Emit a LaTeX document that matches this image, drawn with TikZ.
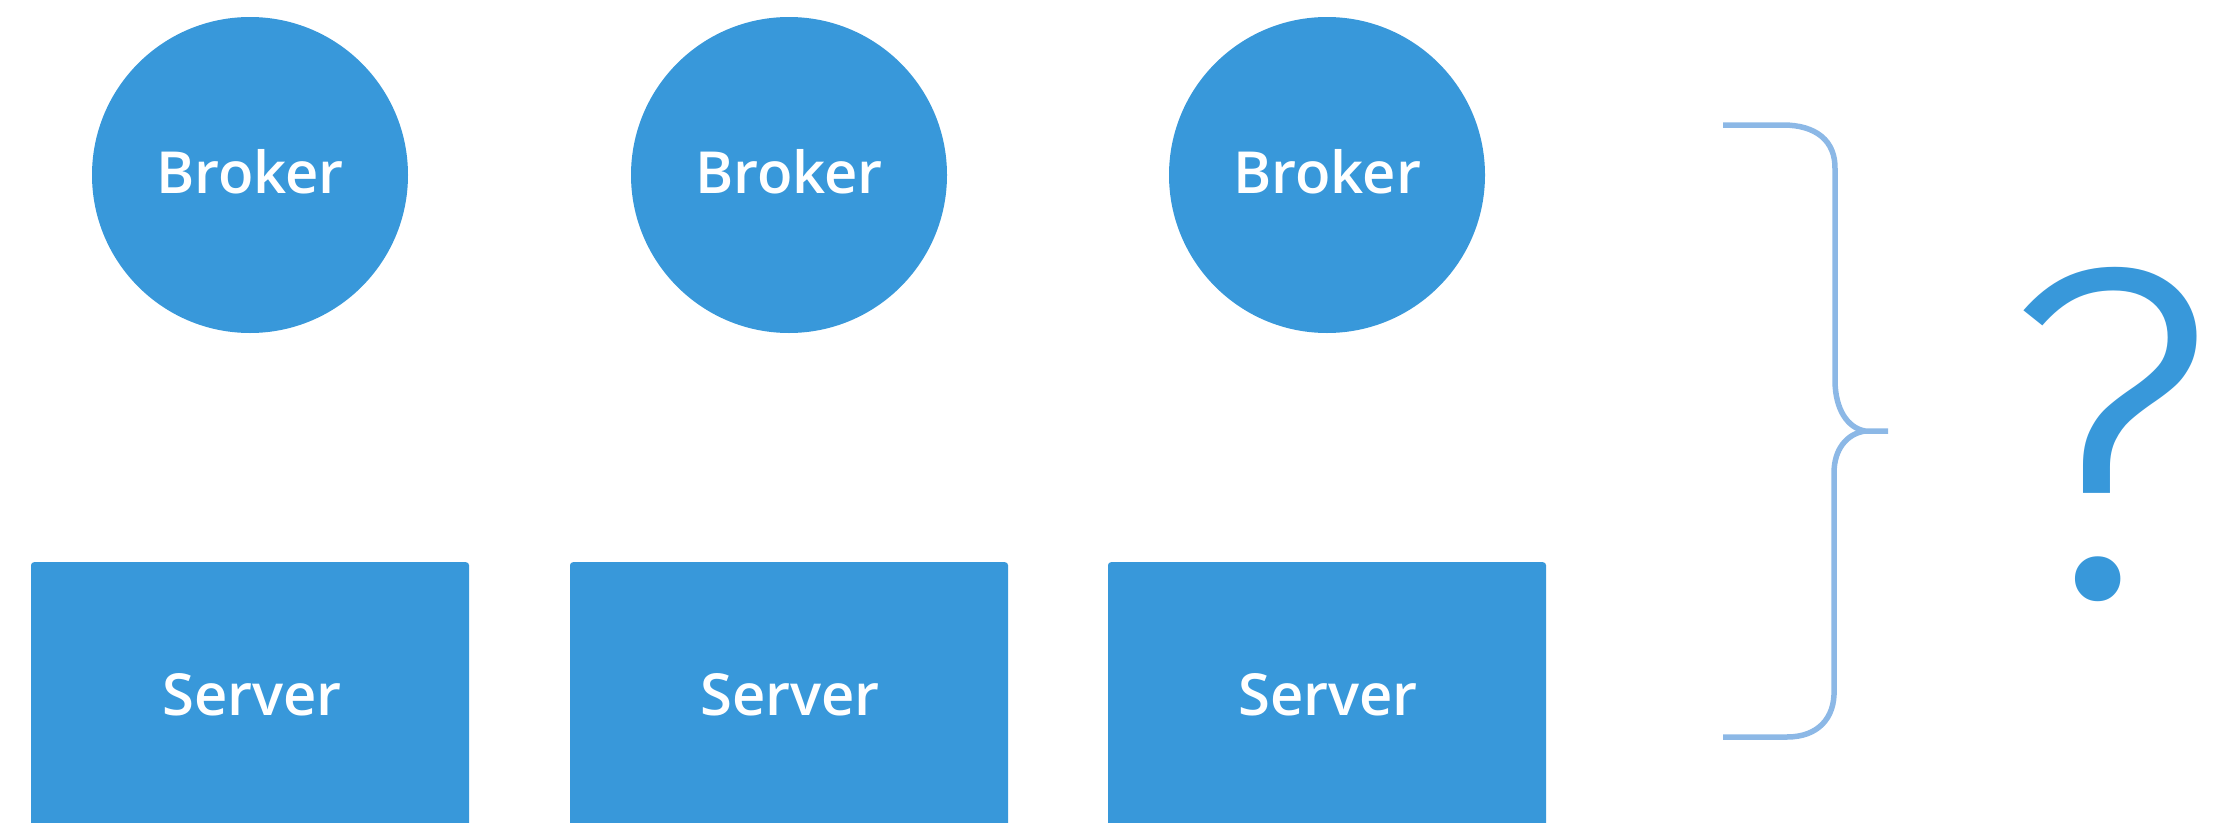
\documentclass[tikz,border=0pt]{standalone}
\usepackage{fontspec}
\IfFontExistsTF{Open Sans Semibold}
  {\newfontfamily\labelfont{Open Sans Semibold}\newcommand\labelsize{\fontsize{58}{58}\selectfont}}
  {\newfontfamily\labelfont{Open Sans}\newcommand\labelsize{\bfseries\fontsize{56}{56}\selectfont}}
\newfontfamily\qfont{Fira Sans Light}
\definecolor{boxblue}{RGB}{56,152,218}
\definecolor{bracecol}{RGB}{140,184,230}
\tikzset{
  brokernode/.style={circle, fill=boxblue, minimum size=316pt, inner sep=0pt},
  servernode/.style={fill=boxblue, rounded corners=3pt, minimum width=438pt,
    minimum height=268pt, inner sep=0pt, anchor=north},
  whitelabel/.style={text=white, anchor=base, inner sep=0pt,
    font=\labelfont\labelsize},
  bracepath/.style={draw=bracecol, line width=5.5pt, line join=round},
}
\begin{document}
\begin{tikzpicture}[x=1pt, y=-1pt]
\useasboundingbox (0,0) rectangle (2227,822);

% brokers
\node[brokernode] (b1) at (250,175) {};
\node[brokernode] (b2) at (789,175) {};
\node[brokernode] (b3) at (1327,175) {};
\node[whitelabel] (bl1) at (250,193) {Broker};
\node[whitelabel] (bl2) at (789,193) {Broker};
\node[whitelabel] (bl3) at (1327,193) {Broker};

% servers (bottom edge runs off the page)
\node[servernode] (s1) at (250,562) {};
\node[servernode] (s2) at (789,562) {};
\node[servernode] (s3) at (1327,562) {};
\node[whitelabel] (sl1) at (252,715) {Server};
\node[whitelabel] (sl2) at (790,715) {Server};
\node[whitelabel] (sl3) at (1328,715) {Server};

% curly brace grouping brokers and servers
\coordinate (bt) at (1723,125);
\coordinate (bb) at (1723,737);
\coordinate (tip) at (1888,431);
\coordinate (mid) at (1865,431);
\draw[bracepath] (bt) -- (1783,125)
  .. controls (1815,125) and (1836,140) .. (1835,170)
  -- (1835,380)
  .. controls (1835,410) and (1848,428) .. (mid) -- (tip);
\draw[bracepath] (mid)
  .. controls (1846,434) and (1834,450) .. (1834,473)
  -- (1834,690)
  .. controls (1835,718) and (1818,737) .. (1787,737) -- (bb);

% question mark
\node[text=boxblue, font=\qfont\fontsize{473}{473}\selectfont, anchor=base, inner sep=0pt]
  (q) at (2110,596) {?};
\end{tikzpicture}
\end{document}
